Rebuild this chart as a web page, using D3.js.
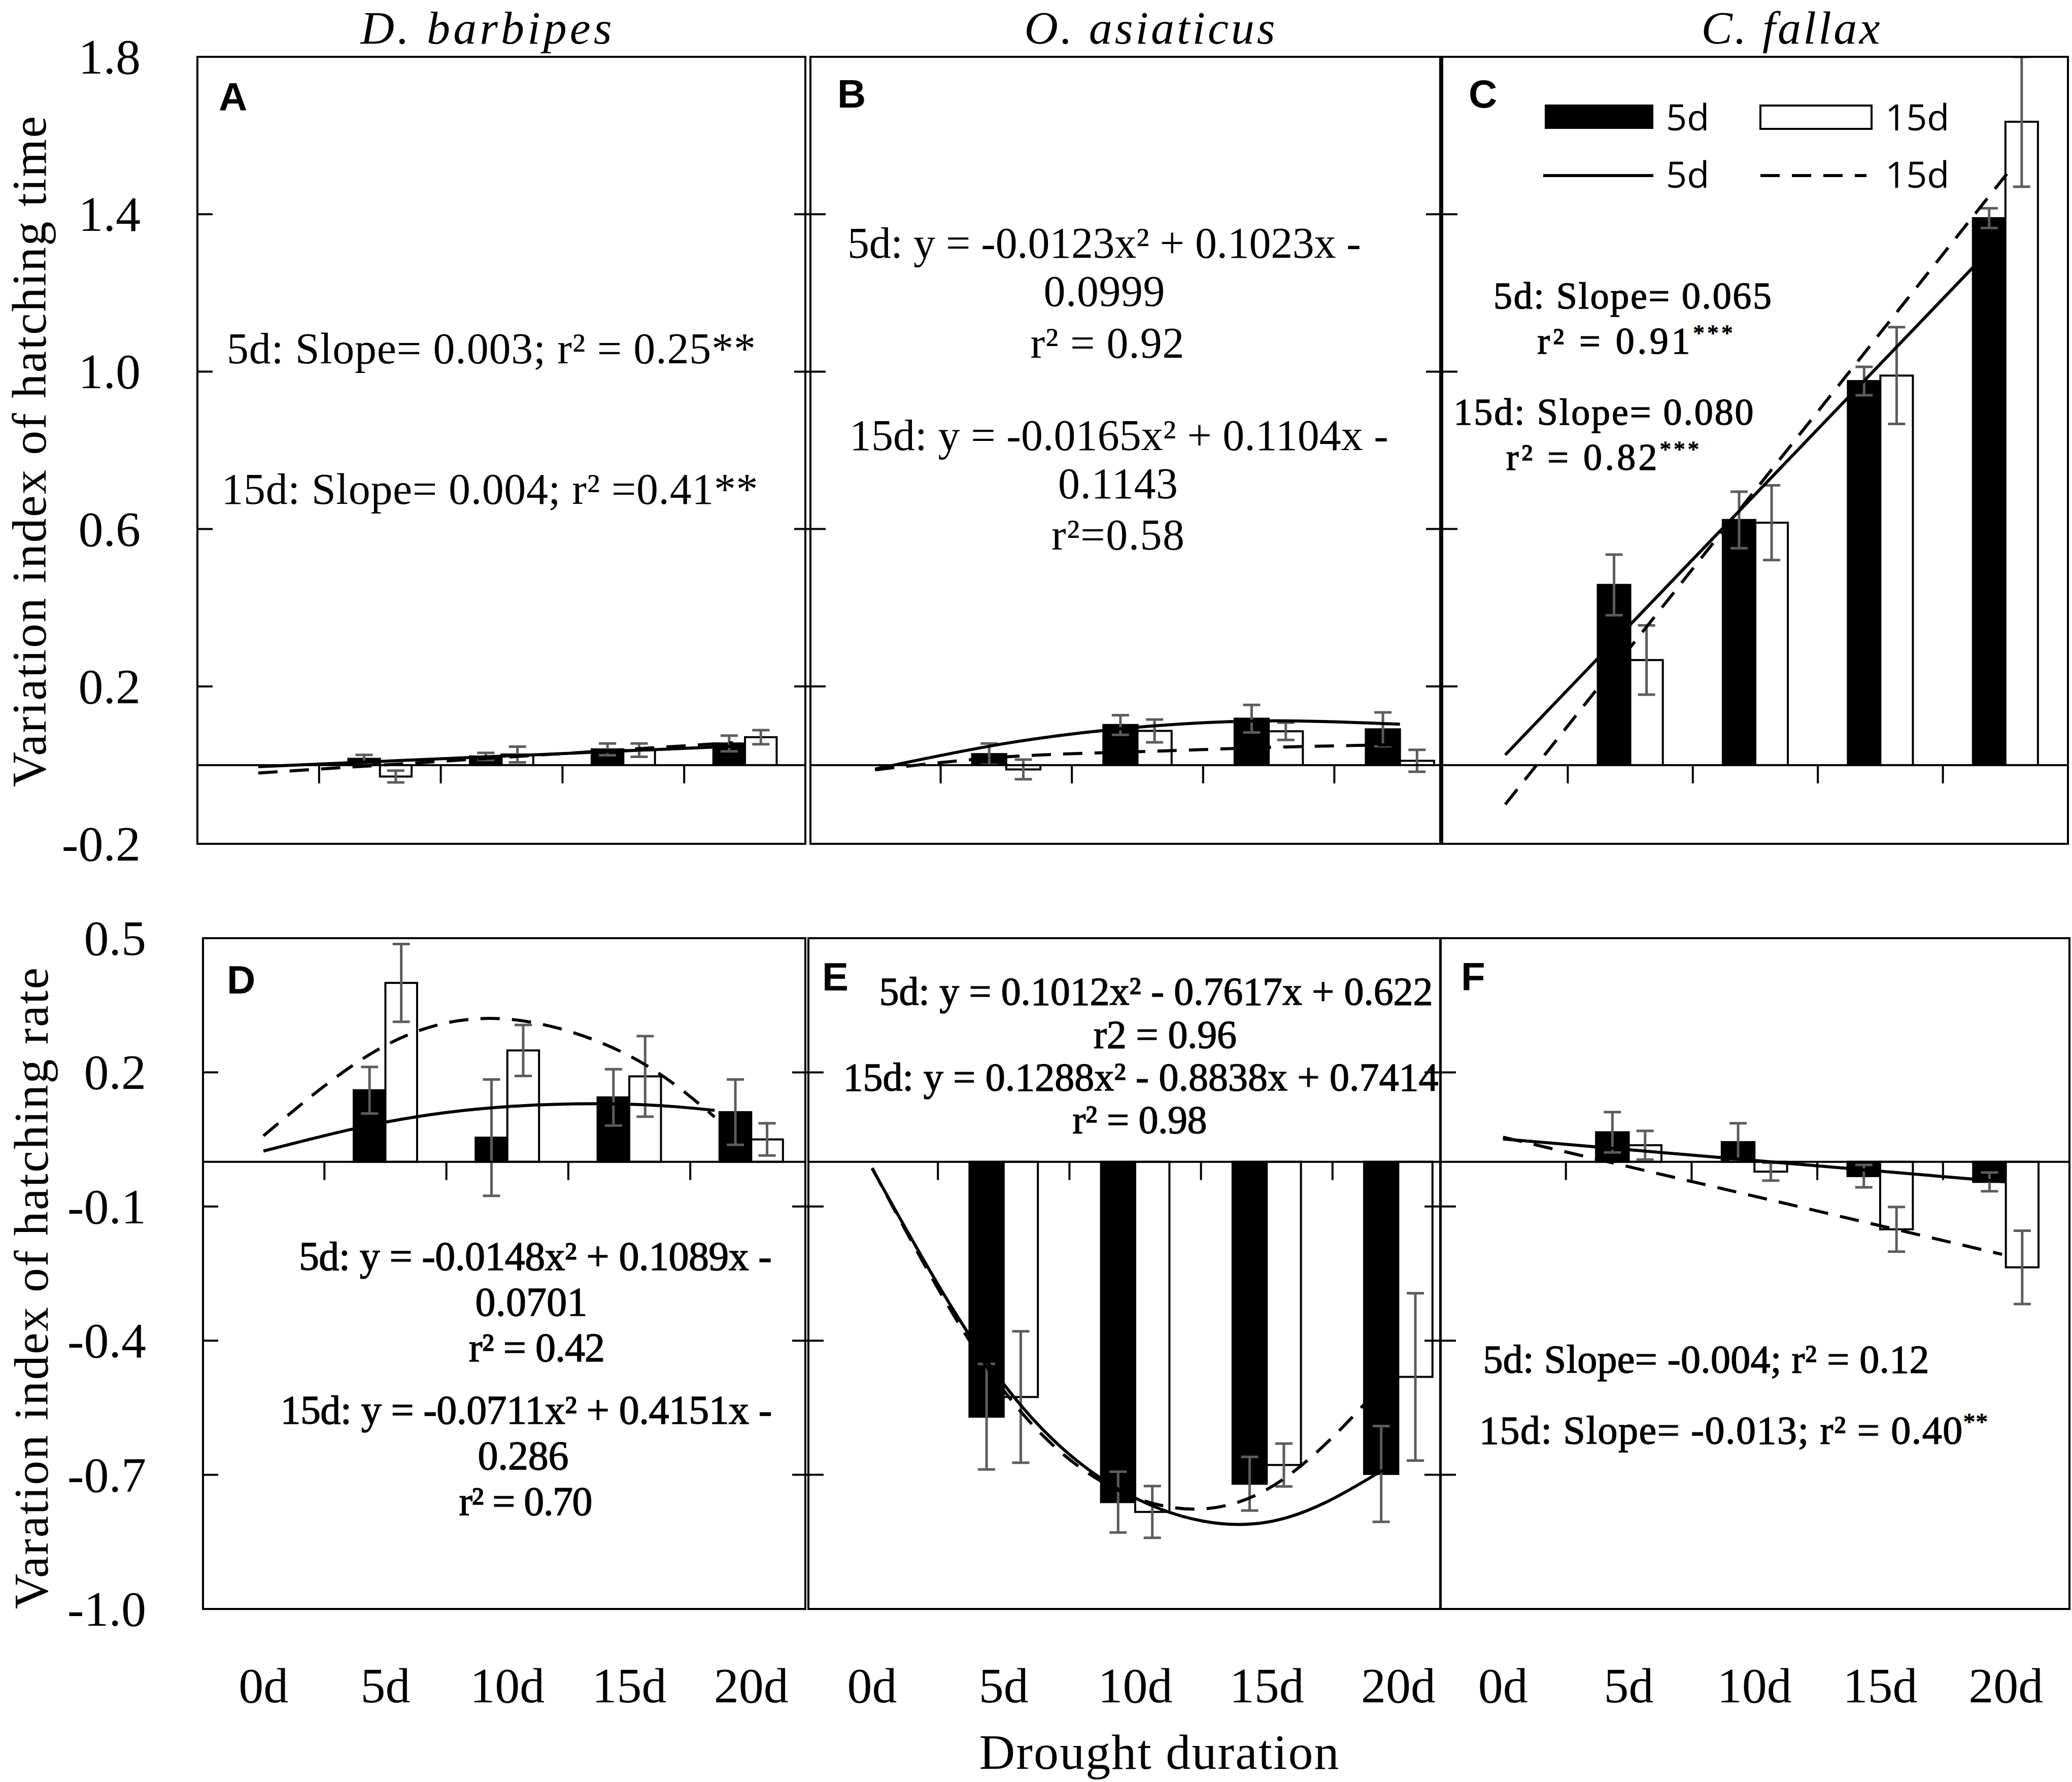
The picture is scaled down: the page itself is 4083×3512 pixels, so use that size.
<!DOCTYPE html>
<html>
<head>
<meta charset="utf-8">
<script src="https://cdn.jsdelivr.net/npm/d3@7"></script>
<style>
  body { margin: 0; background: #fff; }
  svg { display: block; }
  text { fill: #000; }
</style>
</head>
<body>
<div id="chart"></div>
<script>
// ---- data ----
const categories = ["0d", "5d", "10d", "15d", "20d"];
const timeTicks = [1.8, 1.4, 1.0, 0.6, 0.2, -0.2];
const rateTicks = [0.5, 0.2, -0.1, -0.4, -0.7, -1.0];
const species = ["D. barbipes", "O. asiaticus", "C. fallax"];

// variation index of hatching time (5d / 15d treatments), 0d has no bar
const timeD5 = [null, 0.016, 0.022, 0.040, 0.055];
const timeD5Err = [null, 0.010, 0.009, 0.015, 0.020];
const timeD15 = [null, -0.029, 0.027, 0.038, 0.071];
const timeD15Err = [null, 0.015, 0.020, 0.017, 0.018];
const timeO5 = [null, 0.028, 0.102, 0.118, 0.091];
const timeO5Err = [null, 0.027, 0.025, 0.035, 0.043];
const timeO15 = [null, -0.011, 0.087, 0.086, 0.011];
const timeO15Err = [null, 0.025, 0.029, 0.022, 0.028];
const timeC5 = [null, 0.458, 0.623, 0.976, 1.390];
const timeC5Err = [null, 0.077, 0.072, 0.036, 0.025];
const timeC15 = [null, 0.267, 0.616, 0.990, 1.635];
const timeC15Err = [null, 0.088, 0.095, 0.123, 0.165];

// variation index of hatching rate
const rateD5 = [null, 0.160, 0.054, 0.144, 0.111];
const rateD5Err = [null, 0.052, 0.130, 0.063, 0.073];
const rateD15 = [null, 0.400, 0.249, 0.191, 0.050];
const rateD15Err = [null, 0.087, 0.057, 0.090, 0.036];
const rateO5 = [null, -0.570, -0.761, -0.720, -0.698];
const rateO5Err = [null, 0.118, 0.068, 0.060, 0.107];
const rateO15 = [null, -0.526, -0.783, -0.678, -0.481];
const rateO15Err = [null, 0.147, 0.058, 0.048, 0.187];
const rateC5 = [null, 0.066, 0.044, -0.032, -0.045];
const rateC5Err = [null, 0.045, 0.042, 0.025, 0.021];
const rateC15 = [null, 0.037, -0.022, -0.151, -0.236];
const rateC15Err = [null, 0.032, 0.020, 0.050, 0.082];

// fitted trend lines, [category position (1 = 0d ... 5 = 20d), value]
const trendTimeD5 = [[1, -0.004], [4.9, 0.048]];
const trendTimeD15 = [[1, -0.020], [4.9, 0.057]];
const trendTimeO5 = [[1, -0.010], [2, 0.0555], [3, 0.0963], [4, 0.1125], [5, 0.104]];
const trendTimeO15 = [[1, -0.012], [2, 0.021], [3, 0.034], [4, 0.045], [5, 0.052]];
const trendTimeC5 = [[1, 0.026], [4.75, 1.268]];
const trendTimeC15 = [[1, -0.100], [5.02, 1.506]];
const trendRateD5 = [[1, 0.024], [2, 0.0885], [3, 0.1234], [4, 0.1287], [4.7, 0.115]];
const trendRateD15 = [[1, 0.058], [2, 0.260], [3, 0.319], [4, 0.237], [4.7, 0.100]];
const trendRateO5 = [[1, -0.015], [2, -0.497], [3, -0.752], [4, -0.806], [4.88, -0.690]];
const trendRateO15 = [[1, -0.014], [2, -0.511], [3, -0.751], [4, -0.733], [5, -0.458]];
const trendRateC5 = [[1, 0.051], [5.0, -0.045]];
const trendRateC15 = [[1, 0.055], [4.97, -0.207]];

// ---- layout ----
const W = 4083, H = 3512;
const serif = '"Liberation Serif", "Times New Roman", serif';
const sans = '"Liberation Sans", Arial, sans-serif';
const legendFont = '"Open Sans", "Noto Sans", sans-serif';

const rows = [
  { top: 112, bottom: 1663, domain: [-0.2, 1.8], ticks: timeTicks, labelX: 277,
    title: "Variation index of hatching time", titleX: 90, titleY: 890, titleLen: 1322 },
  { top: 1849, bottom: 3171, domain: [-1.0, 0.5], ticks: rateTicks, labelX: 288,
    title: "Varation index of hatching rate", titleX: 94, titleY: 2539, titleLen: 1264 }
];

const panels = [
  { letter: "A", row: 0, col: 0, left: 389, right: 1587, start: 389, band: 239.8, lx: 42, ly: 106,
    s5: timeD5, e5: timeD5Err, s15: timeD15, e15: timeD15Err, t5: trendTimeD5, t15: trendTimeD15,
    fs: 86, heavy: false,
    notes: [
      { t: "5d: Slope= 0.003; r² = 0.25**", cx: 968, y: 716, w: 1042 },
      { t: "15d: Slope= 0.004; r² =0.41**", cx: 965, y: 993, w: 1057 }
    ] },
  { letter: "B", row: 0, col: 1, left: 1597, right: 2838, start: 1595, band: 258.6, lx: 53, ly: 100,
    s5: timeO5, e5: timeO5Err, s15: timeO15, e15: timeO15Err, t5: trendTimeO5, t15: trendTimeO15,
    fs: 86, heavy: false,
    notes: [
      { t: "5d: y = -0.0123x² + 0.1023x -", cx: 2176, y: 508, w: 1012 },
      { t: "0.0999", cx: 2176, y: 603, w: 239 },
      { t: "r² = 0.92", cx: 2182, y: 705, w: 303 },
      { t: "15d: y = -0.0165x² + 0.1104x -", cx: 2205, y: 887, w: 1062 },
      { t: "0.1143", cx: 2203, y: 982, w: 236 },
      { t: "r²=0.58", cx: 2203, y: 1083, w: 262 }
    ] },
  { letter: "C", row: 0, col: 2, left: 2842, right: 4075, start: 2843, band: 246.4, lx: 52, ly: 100,
    s5: timeC5, e5: timeC5Err, s15: timeC15, e15: timeC15Err, t5: trendTimeC5, t15: trendTimeC15,
    fs: 74, heavy: true, legend: true,
    notes: [
      { t: "5d: Slope= 0.065", cx: 3217, y: 608, w: 548 },
      { t: "r² = 0.91^***", cx: 3222, y: 697, w: 385 },
      { t: "15d: Slope= 0.080", cx: 3160, y: 837, w: 591 },
      { t: "r² = 0.82^***", cx: 3158, y: 926, w: 380 }
    ] },
  { letter: "D", row: 1, col: 0, left: 400, right: 1587, start: 399, band: 240.3, lx: 47, ly: 109,
    s5: rateD5, e5: rateD5Err, s15: rateD15, e15: rateD15Err, t5: trendRateD5, t15: trendRateD15,
    fs: 80, heavy: true,
    notes: [
      { t: "5d: y = -0.0148x² + 0.1089x -", cx: 1055, y: 2503, w: 932 },
      { t: "0.0701", cx: 1047, y: 2593, w: 221 },
      { t: "r² = 0.42", cx: 1058, y: 2683, w: 268 },
      { t: "15d: y = -0.0711x² + 0.4151x -", cx: 1037, y: 2806, w: 969 },
      { t: "0.286", cx: 1031, y: 2896, w: 179 },
      { t: "r² = 0.70", cx: 1036, y: 2986, w: 263 }
    ] },
  { letter: "E", row: 1, col: 1, left: 1593, right: 2838, start: 1589, band: 259.2, lx: 27, ly: 103,
    s5: rateO5, e5: rateO5Err, s15: rateO15, e15: rateO15Err, t5: trendRateO5, t15: trendRateO15,
    fs: 78, heavy: true,
    notes: [
      { t: "5d: y = 0.1012x² - 0.7617x + 0.622", cx: 2278, y: 1980, w: 1091 },
      { t: "r2 = 0.96", cx: 2296, y: 2065, w: 282 },
      { t: "15d: y = 0.1288x² - 0.8838x + 0.7414", cx: 2248, y: 2149, w: 1173 },
      { t: "r² = 0.98", cx: 2246, y: 2233, w: 265 }
    ] },
  { letter: "F", row: 1, col: 2, left: 2839, right: 4078, start: 2838, band: 247.7, lx: 40, ly: 103,
    s5: rateC5, e5: rateC5Err, s15: rateC15, e15: rateC15Err, t5: trendRateC5, t15: trendRateC15,
    fs: 78, heavy: true,
    notes: [
      { t: "5d: Slope= -0.004; r² = 0.12", cx: 3362, y: 2705, w: 879 },
      { t: "15d: Slope= -0.013; r² = 0.40^**", cx: 3416, y: 2845, w: 1002 }
    ] }
];

const svg = d3.select("#chart").append("svg")
  .attr("width", W).attr("height", H)
  .attr("viewBox", `0 0 ${W} ${H}`)
  .style("font-family", serif);

svg.append("rect").attr("width", W).attr("height", H).attr("fill", "#fff");

const errColor = "#5c5c5c";

// text with optional trailing superscript after "^"
function addNote(g, n, fs, heavy) {
  const parts = n.t.split("^");
  const t = g.append("text")
    .attr("x", n.cx).attr("y", n.y)
    .attr("text-anchor", "middle")
    .attr("font-size", fs)
    .attr("textLength", n.w)
    .attr("lengthAdjust", "spacing")
    .text(parts[0]);
  if (parts[1]) {
    t.append("tspan").attr("font-size", fs * 0.6).attr("dy", -fs * 0.35).text(parts[1]);
  }
  if (heavy) t.attr("stroke", "#000").attr("stroke-width", 1.4);
}

panels.forEach((p, pi) => {
  const r = rows[p.row];
  const y = d3.scaleLinear().domain(r.domain).range([r.bottom, r.top]);
  const x = d3.scaleBand().domain(categories).range([p.start, p.start + categories.length * p.band]);
  const center = c => x(c) + x.bandwidth() / 2;
  const xi = d3.scaleLinear().domain([1, 5]).range([center("0d"), center("20d")]);
  const bw = x.bandwidth() * 0.26;
  const y0 = y(0);

  const g = svg.append("g");
  const clipId = "clip" + pi;
  svg.append("clipPath").attr("id", clipId)
    .append("rect").attr("x", p.left).attr("y", r.top)
    .attr("width", p.right - p.left).attr("height", r.bottom - r.top);

  const plot = g.append("g").attr("clip-path", `url(#${clipId})`);

  // bars
  const series = [
    { vals: p.s5, errs: p.e5, off: -bw, fill: "#000" },
    { vals: p.s15, errs: p.e15, off: 0, fill: "#fff" }
  ];
  series.forEach(s => {
    const d = categories.map((c, i) => ({ c, v: s.vals[i], e: s.errs[i] })).filter(d => d.v != null);
    plot.selectAll(null).data(d).join("rect")
      .attr("x", d => center(d.c) + s.off)
      .attr("y", d => Math.min(y(d.v), y0))
      .attr("width", bw)
      .attr("height", d => Math.abs(y(d.v) - y0))
      .attr("fill", s.fill)
      .attr("stroke", "#000")
      .attr("stroke-width", 4);
  });

  // zero line
  g.append("line").attr("x1", p.left).attr("x2", p.right)
    .attr("y1", y0).attr("y2", y0).attr("stroke", "#000").attr("stroke-width", 4);

  // x ticks at category boundaries, hanging below zero
  g.selectAll(null).data(categories.slice(1)).join("line")
    .attr("x1", c => x(c)).attr("x2", c => x(c))
    .attr("y1", y0).attr("y2", y0 + 36)
    .attr("stroke", "#000").attr("stroke-width", 4);

  // error bars
  series.forEach(s => {
    const d = categories.map((c, i) => ({ c, v: s.vals[i], e: s.errs[i] })).filter(d => d.v != null);
    const eg = plot.selectAll(null).data(d).join("g")
      .attr("stroke", errColor).attr("stroke-width", 5);
    const cx = d => center(d.c) + s.off + bw / 2;
    eg.append("line").attr("x1", cx).attr("x2", cx)
      .attr("y1", d => y(d.v + d.e)).attr("y2", d => y(d.v - d.e));
    eg.append("line").attr("x1", d => cx(d) - 17).attr("x2", d => cx(d) + 17)
      .attr("y1", d => y(d.v + d.e)).attr("y2", d => y(d.v + d.e));
    eg.append("line").attr("x1", d => cx(d) - 17).attr("x2", d => cx(d) + 17)
      .attr("y1", d => y(d.v - d.e)).attr("y2", d => y(d.v - d.e));
  });

  // trend lines
  const line = d3.line().x(d => xi(d[0])).y(d => y(d[1])).curve(d3.curveNatural);
  plot.append("path").attr("d", line(p.t15)).attr("fill", "none")
    .attr("stroke", "#000").attr("stroke-width", 6).attr("stroke-dasharray", "38 24");
  plot.append("path").attr("d", line(p.t5)).attr("fill", "none")
    .attr("stroke", "#000").attr("stroke-width", 6);

  // y ticks
  const inner = r.ticks.slice(1, -1);
  g.selectAll(null).data(inner).join("line")
    .attr("x1", p.col === 0 ? p.left : p.left - 32).attr("x2", p.left + 30)
    .attr("y1", v => y(v)).attr("y2", v => y(v))
    .attr("stroke", "#000").attr("stroke-width", 4);

  // frame
  g.append("rect").attr("x", p.left).attr("y", r.top)
    .attr("width", p.right - p.left).attr("height", r.bottom - r.top)
    .attr("fill", "none").attr("stroke", "#000").attr("stroke-width", 4);

  // y tick labels on the first column
  if (p.col === 0) {
    g.selectAll(null).data(r.ticks).join("text")
      .attr("x", r.labelX).attr("y", v => y(v) + 33)
      .attr("text-anchor", "end").attr("font-size", 98)
      .text(v => v.toFixed(1));
    g.append("text")
      .attr("transform", `translate(${r.titleX},${r.titleY}) rotate(-90)`)
      .attr("text-anchor", "middle").attr("font-size", 96)
      .attr("textLength", r.titleLen).attr("lengthAdjust", "spacing")
      .text(r.title);
  }

  // species title
  if (p.row === 0) {
    g.append("text")
      .attr("x", (p.left + p.right) / 2 + [-30, 48, 70][p.col]).attr("y", 86)
      .attr("text-anchor", "middle").attr("font-size", 92).attr("font-style", "italic")
      .attr("textLength", [495, 494, 352][p.col]).attr("lengthAdjust", "spacing")
      .text(species[p.col]);
  }

  // category labels under the bottom row
  if (p.row === 1) {
    g.selectAll(null).data(categories).join("text")
      .attr("x", c => center(c)).attr("y", 3355)
      .attr("text-anchor", "middle").attr("font-size", 98)
      .text(c => c);
  }

  // panel letter
  g.append("text").attr("x", p.left + p.lx).attr("y", r.top + p.ly)
    .style("font-family", sans)
    .attr("font-weight", "bold").attr("font-size", 78)
    .text(p.letter);

  // regression notes
  p.notes.forEach(n => addNote(g, n, p.fs, p.heavy));

  // legend in panel C
  if (p.legend) {
    const lg = g.append("g");
    lg.append("rect").attr("x", 3044).attr("y", 206).attr("width", 214).attr("height", 48).attr("fill", "#000");
    lg.append("rect").attr("x", 3469).attr("y", 208).attr("width", 219).attr("height", 46)
      .attr("fill", "#fff").attr("stroke", "#000").attr("stroke-width", 4);
    lg.append("line").attr("x1", 3041).attr("x2", 3258).attr("y1", 346).attr("y2", 346)
      .attr("stroke", "#000").attr("stroke-width", 6);
    lg.append("line").attr("x1", 3469).attr("x2", 3678).attr("y1", 346).attr("y2", 346)
      .attr("stroke", "#000").attr("stroke-width", 6).attr("stroke-dasharray", "38 24");
    [["5d", 3283, 257], ["15d", 3715, 257], ["5d", 3283, 370], ["15d", 3715, 370]].forEach(([t, lx, ly]) => {
      lg.append("text").attr("x", lx).attr("y", ly).attr("font-size", 72)
        .style("font-family", legendFont).attr("fill", "#111").text(t);
    });
  }
});

svg.append("text").attr("x", 2284).attr("y", 3486)
  .attr("text-anchor", "middle").attr("font-size", 98)
  .attr("textLength", 709).attr("lengthAdjust", "spacing")
  .text("Drought duration");
</script>
</body>
</html>
